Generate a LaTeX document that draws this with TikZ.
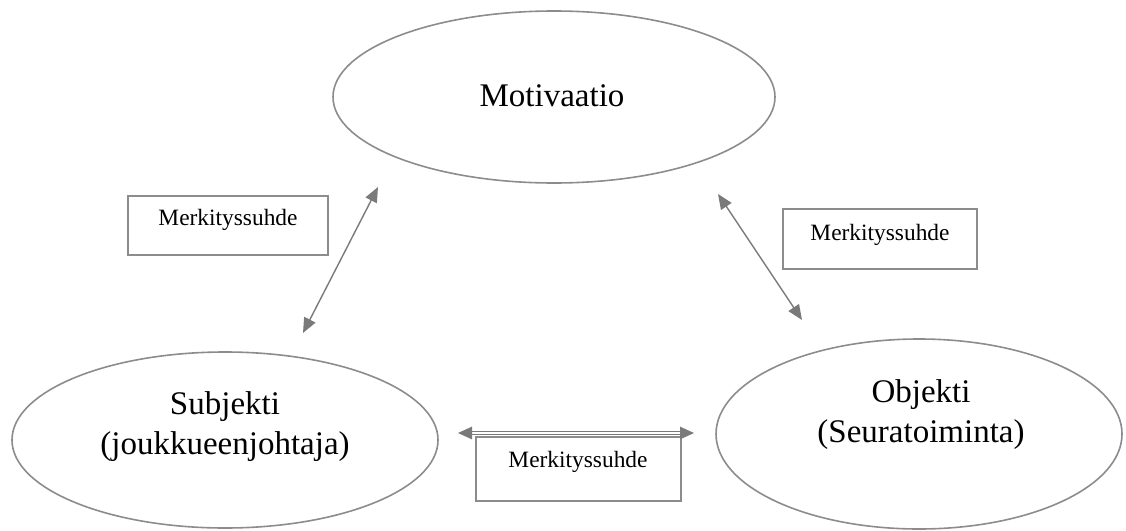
\documentclass[tikz,border=0pt]{standalone}
\usepackage{fontspec}
\setmainfont{Liberation Serif}
\usetikzlibrary{shapes.geometric,arrows.meta}
\definecolor{lgray}{HTML}{8C8C8C}
\definecolor{agray}{HTML}{7A7A7A}
\tikzset{
  ell/.style={ellipse, draw=lgray, line width=1.6pt, inner sep=0pt},
  box/.style={rectangle, draw=lgray, line width=2.2pt, inner sep=0pt},
  bigtxt/.style={font=\fontsize{33}{40}\selectfont, align=center, inner sep=0pt},
  smalltxt/.style={font=\fontsize{23.4}{28}\selectfont, inner sep=0pt, anchor=base},
  tip/.style={Triangle[length=15pt,width=12.5pt]},
  rel/.style={draw=agray, line width=1.4pt, {Triangle[length=15pt,width=12.5pt]}-{Triangle[length=15pt,width=12.5pt]}},
}
\begin{document}
\begin{tikzpicture}[x=1pt,y=-1pt]
\useasboundingbox (0,0) rectangle (1126,530);
% ellipses
\node[ell, minimum width=442pt, minimum height=172pt] (mot) at (554,97) {};
\node[smalltxt, font=\fontsize{33}{40}\selectfont] (mott) at (552,106) {Motivaatio};
\node[ell, minimum width=426pt, minimum height=176pt] (subj) at (225,440) {};
\node[bigtxt] (subjt) at (225,427) {Subjekti\\(joukkueenjohtaja)};
\node[ell, minimum width=406pt, minimum height=190pt] (obj) at (919,434) {};
\node[bigtxt] (objt) at (921,415) {Objekti\\(Seuratoiminta)};
% boxes
\node[box, minimum width=200pt, minimum height=59pt] (b1) at (228,225.5) {};
\node[smalltxt] (b1t) at (228,225) {Merkityssuhde};
\node[box, minimum width=194pt, minimum height=60pt] (b2) at (880,239) {};
\node[smalltxt] (b2t) at (880,240) {Merkityssuhde};
\node[box, minimum width=205pt, minimum height=64pt] (b3) at (578.5,469) {};
\node[smalltxt] (b3t) at (578,467) {Merkityssuhde};
% connector end points
\coordinate (l1) at (303,333);
\coordinate (l2) at (378,187);
\coordinate (r1) at (718,194);
\coordinate (r2) at (802,320);
\coordinate (h1) at (458,433);
\coordinate (h2) at (694,433);
\draw[rel] (l1) -- (l2);
\draw[rel] (r1) -- (r2);
\draw[draw=agray, line width=1.1pt, double=white, double distance=1.3pt, {Triangle[length=14pt,width=12.5pt]}-{Triangle[length=14pt,width=12.5pt]}] (h1) -- (h2);
\end{tikzpicture}
\end{document}
